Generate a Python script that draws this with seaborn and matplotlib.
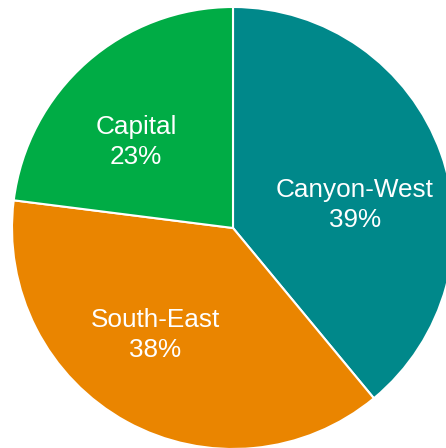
import matplotlib
matplotlib.use("Agg")
import matplotlib.pyplot as plt
import seaborn as sns

regions = ["Canyon-West", "South-East", "Capital"]
shares = [39, 38, 23]
colors = ["#00888A", "#EA8500", "#00AC45"]

sns.set_theme(style="white")
plt.rcParams['font.family'] = ['Liberation Sans', 'DejaVu Sans']

fig = plt.figure(figsize=(4.46, 4.48), dpi=100)
fig.patch.set_facecolor("white")
R = 221
cx, cy = 233, 228
ax = fig.add_axes([(cx - R) / 446, (448 - cy - R) / 448, 2 * R / 446, 2 * R / 448])
wedges, _ = ax.pie(shares, colors=colors, startangle=90, counterclock=False, radius=1,
                   wedgeprops=dict(edgecolor="white", linewidth=1.5))
ax.set_xlim(-1, 1)
ax.set_ylim(-1, 1)
ax.set_aspect("equal")
ax.axis("off")

label_pos = [(122, 23), (-78, -107), (-97, 86)]
for name, val, (dx, dy) in zip(regions, shares, label_pos):
    ax.text(dx / R, dy / R, f"{name}\n{val}%", ha="center", va="center",
            color="white", fontsize=18.8, linespacing=1.3)

fig.savefig("out.png", dpi=100, facecolor="white")
